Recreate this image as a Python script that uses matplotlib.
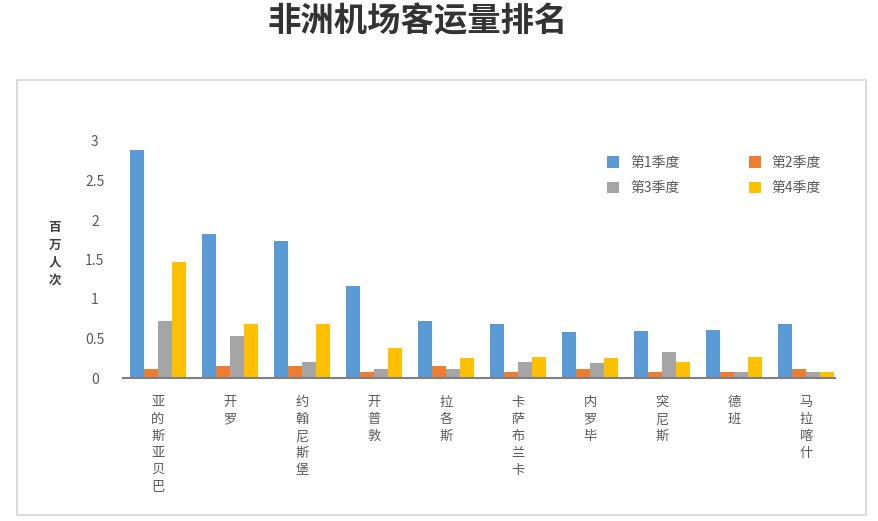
import matplotlib
matplotlib.use("Agg")
import matplotlib.pyplot as plt
import numpy as np
from matplotlib.patches import Rectangle, Patch

plt.rcParams['font.family'] = ['Noto Sans CJK SC', 'DejaVu Sans']

title = "非洲机场客运量排名"
ylabel = "百万人次"
categories = ["亚的斯亚贝巴", "开罗", "约翰尼斯堡", "开普敦", "拉各斯",
              "卡萨布兰卡", "内罗毕", "突尼斯", "德班", "马拉喀什"]
series_names = ["第1季度", "第2季度", "第3季度", "第4季度"]
q1 = [2.89, 1.82, 1.74, 1.16, 0.72, 0.68, 0.58, 0.59, 0.61, 0.68]
q2 = [0.11, 0.15, 0.15, 0.07, 0.15, 0.07, 0.11, 0.08, 0.08, 0.12]
q3 = [0.72, 0.53, 0.20, 0.11, 0.11, 0.20, 0.19, 0.33, 0.07, 0.07]
q4 = [1.47, 0.68, 0.68, 0.38, 0.25, 0.27, 0.25, 0.20, 0.26, 0.07]
yticks = [0, 0.5, 1, 1.5, 2, 2.5, 3]
ytick_labels = ["0", "0.5", "1", "1.5", "2", "2.5", "3"]

colors = ["#5B9BD5", "#ED7D31", "#A5A5A5", "#FFC000"]
series = [q1, q2, q3, q4]

W, H = 879, 521
fig = plt.figure(figsize=(W / 100, H / 100), dpi=100)
fig.patch.set_facecolor("white")

# border box
fig.patches.append(Rectangle((17 / W, 1 - 515 / H), (866 - 17) / W, (515 - 80) / H,
                             transform=fig.transFigure, fill=False,
                             edgecolor="#d6d6d6", linewidth=1.2))

ax = fig.add_axes([122.7 / W, 1 - 378 / H, (835 - 122.7) / W, (378 - 141) / H])

x = np.arange(len(categories))
bw = 0.195
for i, (vals, c) in enumerate(zip(series, colors)):
    ax.bar(x + (i - 1.5) * bw, vals, width=bw * 0.97, color=c, zorder=2)

ax.set_ylim(0, 3)
ax.set_xlim(-0.49, 9.40)
ax.set_yticks(yticks)
ax.set_yticklabels(ytick_labels, fontsize=10, color="#595959", ha="center")
ax.tick_params(axis="y", length=0, pad=20)
ax.set_xticks(x)
ax.set_xticklabels(["\n".join(c) for c in categories], fontsize=9.5, color="#595959",
                   linespacing=1.4, va="top")
ax.tick_params(axis="x", length=0, pad=13)
for s in ["top", "right", "left"]:
    ax.spines[s].set_visible(False)
ax.spines["bottom"].set_color("#7f7f7f")
ax.spines["bottom"].set_linewidth(1.5)
ax.spines["bottom"].set_zorder(3)

fig.text(55 / W, 1 - 254 / H, "\n".join(ylabel), ha="center", va="center",
         fontsize=9, fontweight="bold", color="#404040", linespacing=1.45)

fig.text(418 / W, 1 - 22 / H, title, ha="center", va="center",
         fontsize=24, fontweight="bold", color="#333333")

handles = [Patch(facecolor=c) for c in colors]
order = [0, 2, 1, 3]
leg = fig.legend([handles[i] for i in order], [series_names[i] for i in order],
                 ncol=2, loc="upper left", bbox_to_anchor=(607 / W, 1 - 156 / H),
                 frameon=False, fontsize=10, handlelength=0.9, handleheight=0.9,
                 handletextpad=0.75, columnspacing=5.0, labelspacing=0.8,
                 borderpad=0, borderaxespad=0)
for t in leg.get_texts():
    t.set_color("#595959")

fig.savefig("out.png", dpi=100)
